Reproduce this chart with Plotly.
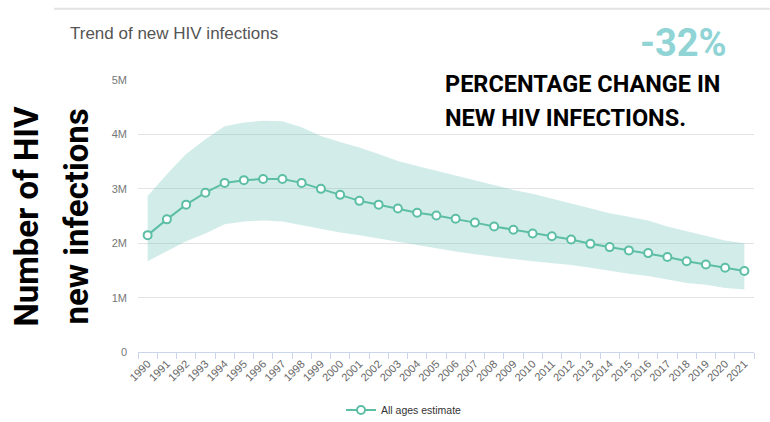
import plotly.graph_objects as go

years = [str(y) for y in range(1990, 2022)]
estimate = [2.15, 2.44, 2.71, 2.93, 3.11, 3.16, 3.18, 3.18, 3.11, 3.00, 2.89, 2.78, 2.71, 2.64, 2.56, 2.51,
            2.45, 2.38, 2.31, 2.25, 2.18, 2.13, 2.07, 1.99, 1.93, 1.87, 1.82, 1.75, 1.67, 1.61, 1.55, 1.49]
upper = [2.87, 3.27, 3.64, 3.91, 4.15, 4.22, 4.25, 4.24, 4.13, 3.97, 3.86, 3.76, 3.64, 3.51, 3.42, 3.33,
         3.25, 3.16, 3.07, 2.98, 2.91, 2.82, 2.73, 2.65, 2.55, 2.49, 2.42, 2.31, 2.22, 2.13, 2.05, 2.00]
lower = [1.67, 1.85, 2.04, 2.18, 2.35, 2.40, 2.42, 2.40, 2.33, 2.26, 2.20, 2.15, 2.09, 2.02, 1.96, 1.90,
         1.85, 1.80, 1.75, 1.71, 1.67, 1.64, 1.60, 1.55, 1.49, 1.44, 1.40, 1.33, 1.27, 1.24, 1.18, 1.15]
M = 1_000_000
estimate = [v * M for v in estimate]
upper = [v * M for v in upper]
lower = [v * M for v in lower]

y_tickvals = [0, 1 * M, 2 * M, 3 * M, 4 * M, 5 * M]
y_ticktext = ["0", "1M", "2M", "3M", "4M", "5M"]

TEAL = "#5dbea6"

fig = go.Figure()
fig.add_trace(go.Scatter(x=years, y=lower, mode="lines", line=dict(width=0),
                         showlegend=False, hoverinfo="skip"))
fig.add_trace(go.Scatter(x=years, y=upper, mode="lines", line=dict(width=0),
                         fill="tonexty", fillcolor="rgba(95,190,175,0.28)",
                         showlegend=False, hoverinfo="skip"))
fig.add_trace(go.Scatter(x=years, y=estimate, mode="lines+markers", name="All ages estimate",
                         line=dict(color=TEAL, width=2),
                         marker=dict(symbol="circle", size=8, color="white",
                                     line=dict(color=TEAL, width=2))))

fig.update_layout(
    width=770, height=422,
    margin=dict(l=138, r=16, t=80, b=67),
    paper_bgcolor="white", plot_bgcolor="white",
    font=dict(family="Liberation Sans, Arial, sans-serif", color="#666666"),
    title=dict(text="Trend of new HIV infections", x=70 / 770, xanchor="left",
               xref="container", y=1 - 33 / 422, yanchor="middle", yref="container",
               font=dict(size=17, color="#555555", family="Liberation Sans, Arial, sans-serif")),
    showlegend=True,
    legend=dict(orientation="h", xref="container", yref="container",
                x=404 / 770, xanchor="center", y=1 - 410 / 422, yanchor="middle",
                itemwidth=30,
                font=dict(size=10.5, color="#333333")),
    xaxis=dict(type="category", range=[-0.5, 31.5], tickson="boundaries",
               ticks="outside", ticklen=6, tickcolor="#ccd6eb", showline=True,
               linecolor="#ccd6eb", linewidth=1, showgrid=False, tickangle=-45,
               tickfont=dict(size=11, color="#666666"), zeroline=False, fixedrange=True),
    yaxis=dict(range=[0, 5 * M], tickvals=y_tickvals, ticktext=y_ticktext,
               showgrid=True, gridcolor="#e3e3e3", gridwidth=1, zeroline=False,
               showline=False, ticks="", ticklabelstandoff=10,
               tickfont=dict(size=11, color="#777777")),
)

# top separator line
fig.add_shape(type="line", xref="paper", yref="paper",
              x0=(54 - 138) / 616, x1=(770 - 138) / 616,
              y0=(355 - 8) / 275, y1=(355 - 8) / 275,
              line=dict(color="#e3e3e3", width=2))

BOLD = dict(family="Roboto, Lato, sans-serif", weight=700, color="#000000")
fig.add_annotation(text="-32%", xref="paper", yref="paper",
                   x=(729 - 138) / 616, xanchor="right", y=(355 - 43) / 275, yanchor="middle",
                   showarrow=False, font=dict(family="Roboto, Lato, sans-serif", weight=700,
                                              size=38, color="#90d4d6"))
fig.add_annotation(text="PERCENTAGE CHANGE IN", xref="paper", yref="paper",
                   x=(443 - 138) / 616, xanchor="left", y=(355 - 84) / 275, yanchor="middle",
                   showarrow=False, font=dict(BOLD, size=23.5))
fig.add_annotation(text="NEW HIV INFECTIONS.", xref="paper", yref="paper",
                   x=(443 - 138) / 616, xanchor="left", y=(355 - 118) / 275, yanchor="middle",
                   showarrow=False, font=dict(BOLD, size=23.5))
fig.add_annotation(text="Number of HIV", xref="paper", yref="paper",
                   x=(27 - 138) / 616, xanchor="center", y=(355 - 218) / 275, yanchor="middle",
                   textangle=-90, showarrow=False, font=dict(BOLD, size=33))
fig.add_annotation(text="new infections", xref="paper", yref="paper",
                   x=(77 - 138) / 616, xanchor="center", y=(355 - 218) / 275, yanchor="middle",
                   textangle=-90, showarrow=False, font=dict(BOLD, size=33))

fig.write_html("out.html", config={"displayModeBar": False},
               post_script="document.body.style.margin='0';document.body.style.padding='0';")
